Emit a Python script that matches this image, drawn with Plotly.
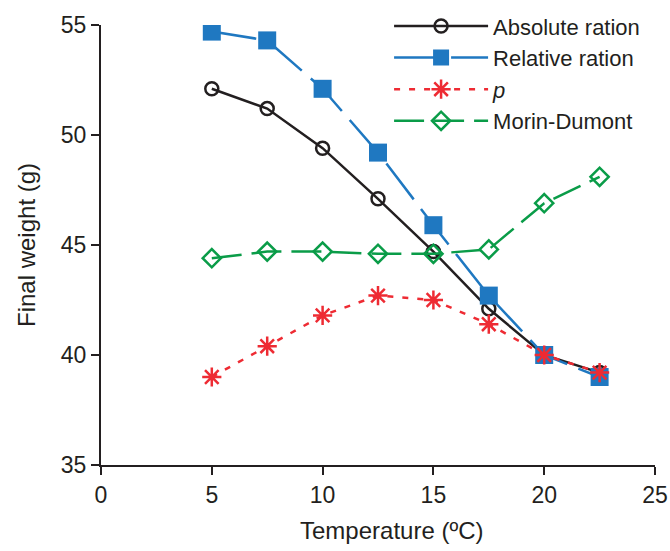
import plotly.graph_objects as go

temperature = [5, 7.5, 10, 12.5, 15, 17.5, 20, 22.5]
absolute_ration = [52.1, 51.2, 49.4, 47.1, 44.7, 42.1, 40.0, 39.2]
relative_ration = [54.7, 54.3, 52.1, 49.2, 45.9, 42.7, 40.0, 39.0]
p_values = [39.0, 40.4, 41.8, 42.7, 42.5, 41.4, 40.0, 39.2]
morin_dumont = [44.4, 44.7, 44.7, 44.6, 44.6, 44.8, 46.9, 48.1]

x_ticks = [0, 5, 10, 15, 20, 25]
y_ticks = [35, 40, 45, 50, 55]

FONT = "Liberation Sans, Arial, sans-serif"

fig = go.Figure()
fig.add_trace(go.Scatter(
    x=temperature, y=absolute_ration, name="Absolute ration", mode="lines+markers",
    line=dict(color="#231f20", width=2.5),
    marker=dict(symbol="circle-open", size=13, color="#231f20", line=dict(width=2.5, color="#231f20")),
))
fig.add_trace(go.Scatter(
    x=temperature, y=relative_ration, name="Relative ration", mode="lines+markers",
    line=dict(color="#1f78c1", width=2.5, dash="45px,12px"),
    marker=dict(symbol="square", size=18, color="#1f78c1"),
))
fig.add_trace(go.Scatter(
    x=temperature, y=p_values, name="<i>p</i>", mode="lines+markers",
    line=dict(color="#ee2b33", width=2.5, dash="6px,9px"),
    marker=dict(symbol="asterisk-open", size=16, color="#ee2b33", line=dict(width=2.5, color="#ee2b33")),
))
fig.add_trace(go.Scatter(
    x=temperature, y=morin_dumont, name="Morin-Dumont", mode="lines+markers",
    line=dict(color="#0a9c48", width=2.5, dash="30px,10px"),
    marker=dict(symbol="diamond-open", size=14, color="#0a9c48", line=dict(width=2.5, color="#0a9c48")),
))

fig.update_layout(
    width=670, height=551,
    margin=dict(l=101, r=15, t=25, b=86, autoexpand=False),
    paper_bgcolor="white", plot_bgcolor="white",
    font=dict(family=FONT, size=23, color="#231f20"),
    showlegend=True,
    legend=dict(
        x=0.52, y=1.045, xanchor="left", yanchor="top",
        bgcolor="rgba(0,0,0,0)", font=dict(size=22, family=FONT, color="#231f20"),
        itemwidth=94, tracegroupgap=0,
    ),
    xaxis=dict(
        range=[0, 25], tickvals=x_ticks, ticks="outside", ticklen=8, tickwidth=2,
        tickcolor="#231f20", showline=True, linecolor="#231f20", linewidth=2,
        showgrid=False, zeroline=False, automargin=False,
        tickfont=dict(size=23),
    ),
    yaxis=dict(
        range=[35, 55], tickvals=y_ticks, ticks="outside", ticklen=8, tickwidth=2,
        tickcolor="#231f20", showline=True, linecolor="#231f20", linewidth=2,
        showgrid=False, zeroline=False, automargin=False,
        title=dict(text="Final weight (g)", font=dict(size=24), standoff=18),
        tickfont=dict(size=23),
    ),
    annotations=[dict(
        text="Temperature (ºC)", xref="paper", yref="paper", x=0.525, y=-0.113,
        xanchor="center", yanchor="top", showarrow=False, font=dict(size=24),
    )],
)

fig.write_html("out.html", config={"displayModeBar": False},
               post_script="document.body.style.margin='0';")
